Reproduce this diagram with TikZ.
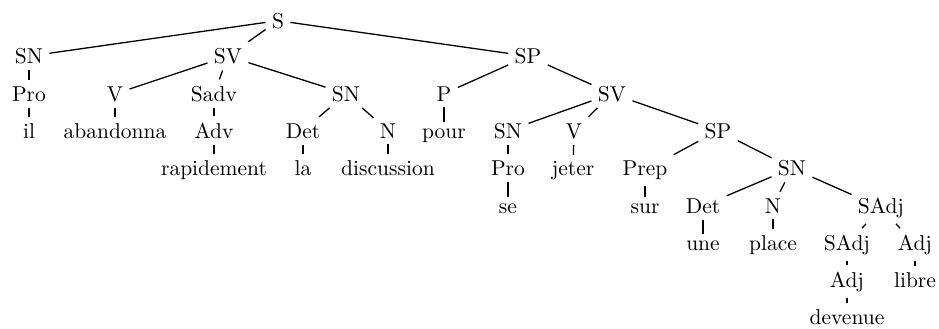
\documentclass[tikz,border=0pt]{standalone}
\begin{document}
\begin{tikzpicture}[x=0.465pt,y=-0.465pt,
  lbl/.style={anchor=base,inner sep=2.8pt},
  edge/.style={line width=0.6pt}]
\useasboundingbox (0,0) rectangle (939,328);
% level 0
\node[lbl] (S) at (278,28) {S};
% level 1
\node[lbl] (SNa) at (29,63.5) {SN};
\node[lbl] (SVa) at (228,63.5) {SV};
\node[lbl] (SPa) at (528,63.5) {SP};
% level 2
\node[lbl] (Proa) at (29,101) {Pro};
\node[lbl] (Va) at (115,101) {V};
\node[lbl] (Sadv) at (214,101) {Sadv};
\node[lbl] (SNb) at (346,101) {SN};
\node[lbl] (P) at (444,101) {P};
\node[lbl] (SVb) at (612,101) {SV};
% level 3
\node[lbl] (il) at (29,138) {il};
\node[lbl] (abandonna) at (115,138) {abandonna};
\node[lbl] (Adv) at (214,138) {Adv};
\node[lbl] (Deta) at (303,138) {Det};
\node[lbl] (Na) at (388,138) {N};
\node[lbl] (pour) at (444,138) {pour};
\node[lbl] (SNc) at (508,138) {SN};
\node[lbl] (Vb) at (574,138) {V};
\node[lbl] (SPb) at (718,138) {SP};
% level 4
\node[lbl] (rapidement) at (214,175.5) {rapidement};
\node[lbl] (la) at (303,175.5) {la};
\node[lbl] (discussion) at (388,175.5) {discussion};
\node[lbl] (Prob) at (508,175.5) {Pro};
\node[lbl] (jeter) at (573,175.5) {jeter};
\node[lbl] (Prep) at (645,175.5) {Prep};
\node[lbl] (SNd) at (792,175.5) {SN};
% level 5
\node[lbl] (se) at (508,213) {se};
\node[lbl] (sur) at (645,213) {sur};
\node[lbl] (Detb) at (703,213) {Det};
\node[lbl] (Nb) at (773,213) {N};
\node[lbl] (SAdja) at (881,213) {SAdj};
% level 6
\node[lbl] (une) at (703,250) {une};
\node[lbl] (place) at (773,250) {place};
\node[lbl] (SAdjb) at (847,250) {SAdj};
\node[lbl] (Adja) at (915,250) {Adj};
% level 7
\node[lbl] (Adjb) at (847,287) {Adj};
\node[lbl] (libre) at (915,287) {libre};
% level 8
\node[lbl] (devenue) at (847,324) {devenue};
% edges
\draw[edge] (S) -- (SNa);
\draw[edge] (S) -- (SVa);
\draw[edge] (S) -- (SPa);
\draw[edge] (SNa) -- (Proa);
\draw[edge] (Proa) -- (il);
\draw[edge] (SVa) -- (Va);
\draw[edge] (SVa) -- (Sadv);
\draw[edge] (SVa) -- (SNb);
\draw[edge] (Va) -- (abandonna);
\draw[edge] (Sadv) -- (Adv);
\draw[edge] (Adv) -- (rapidement);
\draw[edge] (SNb) -- (Deta);
\draw[edge] (SNb) -- (Na);
\draw[edge] (Deta) -- (la);
\draw[edge] (Na) -- (discussion);
\draw[edge] (SPa) -- (P);
\draw[edge] (SPa) -- (SVb);
\draw[edge] (P) -- (pour);
\draw[edge] (SVb) -- (SNc);
\draw[edge] (SVb) -- (Vb);
\draw[edge] (SVb) -- (SPb);
\draw[edge] (SNc) -- (Prob);
\draw[edge] (Prob) -- (se);
\draw[edge] (Vb) -- (jeter);
\draw[edge] (SPb) -- (Prep);
\draw[edge] (SPb) -- (SNd);
\draw[edge] (Prep) -- (sur);
\draw[edge] (SNd) -- (Detb);
\draw[edge] (SNd) -- (Nb);
\draw[edge] (SNd) -- (SAdja);
\draw[edge] (Detb) -- (une);
\draw[edge] (Nb) -- (place);
\draw[edge] (SAdja) -- (SAdjb);
\draw[edge] (SAdja) -- (Adja);
\draw[edge] (SAdjb) -- (Adjb);
\draw[edge] (Adjb) -- (devenue);
\draw[edge] (Adja) -- (libre);
\end{tikzpicture}
\end{document}
